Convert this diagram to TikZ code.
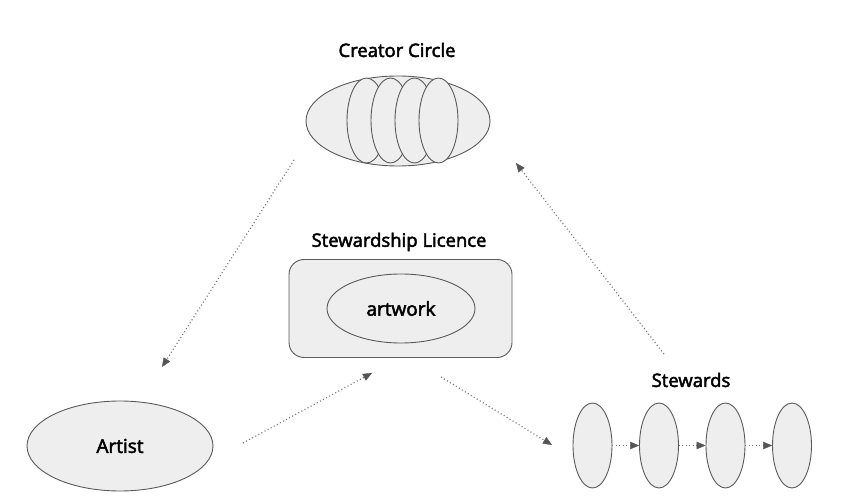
\documentclass[tikz,border=0pt]{standalone}
\usepackage{fontspec}
\setmainfont{Open Sans}
\newfontfamily\medfont{Open Sans}[FakeBold=2.6]
\usetikzlibrary{shapes.geometric,arrows.meta}
\definecolor{shapefill}{HTML}{EEEEEE}
\definecolor{shapeline}{HTML}{5A5A5A}
\definecolor{arrowline}{HTML}{777777}
\definecolor{arrowtip}{HTML}{555555}
\begin{document}
\begin{tikzpicture}[x=1pt,y=-1pt,
  blob/.style={ellipse,draw=shapeline,fill=shapefill,line width=0.9pt,inner sep=0pt},
  title/.style={font=\medfont\fontsize{18.5}{21}\selectfont,text=black},
  label/.style={font=\medfont\fontsize{19}{22}\selectfont,text=black},
  flow/.style={draw=arrowline,line width=1.2pt,dash pattern=on 1pt off 2.5pt,
    -{Triangle[length=9pt,width=7.5pt,fill=arrowtip,color=arrowtip,line width=0.4pt,sep=0pt]}}
]
\useasboundingbox (0,0) rectangle (846,502);

% Creator Circle
\node[title] (cctitle) at (397,50) {Creator Circle};
\node[blob,minimum width=184pt,minimum height=90pt] (cc) at (398,121) {};
\node[blob,minimum width=39pt,minimum height=85pt] (cc1) at (366.5,120.5) {};
\node[blob,minimum width=39pt,minimum height=85pt] (cc2) at (390.5,120.5) {};
\node[blob,minimum width=39pt,minimum height=85pt] (cc3) at (414.5,120.5) {};
\node[blob,minimum width=39pt,minimum height=85pt] (cc4) at (438.5,120.5) {};

% Stewardship Licence
\node[title] (sltitle) at (399,242) {Stewardship Licence};
\node[draw=shapeline,fill=shapefill,line width=0.9pt,rounded corners=15pt,
  minimum width=223pt,minimum height=98pt] (sl) at (400.5,308.5) {};
\node[blob,minimum width=148pt,minimum height=69pt,label] (art) at (401,308.5) {artwork};

% Artist
\node[blob,minimum width=186pt,minimum height=90pt,label] (artist) at (120,446) {Artist};

% Stewards
\node[title] (sttitle) at (691,380) {Stewards};
\node[blob,minimum width=39pt,minimum height=85pt] (s1) at (592.5,445.5) {};
\node[blob,minimum width=39pt,minimum height=85pt] (s2) at (659,445.5) {};
\node[blob,minimum width=39pt,minimum height=85pt] (s3) at (725.5,445.5) {};
\node[blob,minimum width=39pt,minimum height=85pt] (s4) at (792,445.5) {};

\draw[flow] (s1.east) -- (s2.west);
\draw[flow] (s2.east) -- (s3.west);
\draw[flow] (s3.east) -- (s4.west);

% big connectors
\coordinate (a1) at (294,160);
\coordinate (a2) at (162,367);
\coordinate (b1) at (243,443);
\coordinate (b2) at (372,373);
\coordinate (c1) at (441,377);
\coordinate (c2) at (552,445);
\coordinate (d1) at (664,354);
\coordinate (d2) at (516,163);
\draw[flow] (a1) -- (a2);
\draw[flow] (b1) -- (b2);
\draw[flow] (c1) -- (c2);
\draw[flow] (d1) -- (d2);
\end{tikzpicture}
\end{document}
